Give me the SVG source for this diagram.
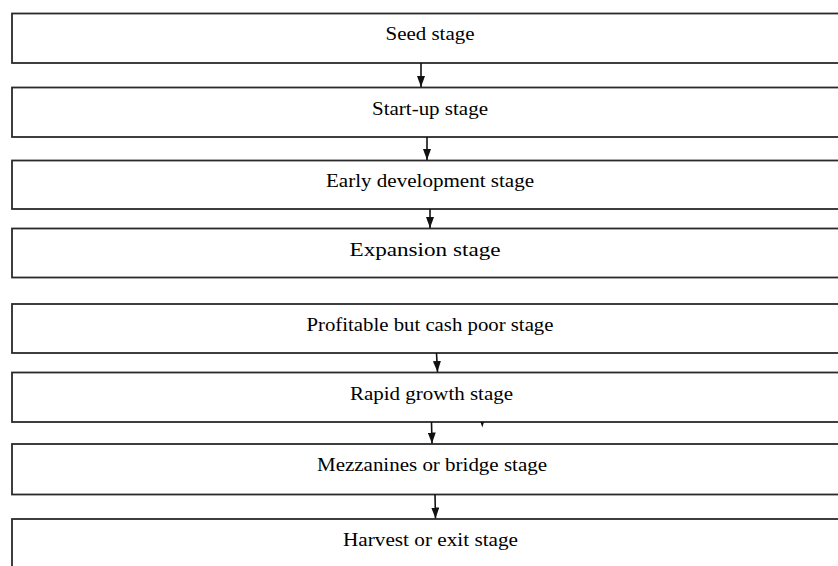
<svg xmlns="http://www.w3.org/2000/svg" width="838" height="566" viewBox="0 0 838 566">
<style>
.box{fill:#fff;stroke:#2a2a2a;stroke-width:1.8}
.lbl{font-family:"Liberation Serif","Times New Roman",serif;font-size:19px;fill:#000;text-anchor:middle}
.con{stroke:#111;stroke-width:1.6;fill:none}
</style>
<defs>
<marker id="ah" markerWidth="11" markerHeight="8" refX="11" refY="4" orient="auto" markerUnits="userSpaceOnUse" viewBox="0 0 11 8">
<path d="M0,0 L11,4 L0,8 Z" fill="#111"/>
</marker>
</defs>
<rect width="838" height="566" fill="#fff"/>
<g id="seed"><rect class="box" x="12" y="13.5" width="840" height="49.5"/><text class="lbl" x="430" y="40" textLength="89" lengthAdjust="spacingAndGlyphs">Seed stage</text></g>
<g id="startup"><rect class="box" x="12" y="87.5" width="840" height="49.5"/><text class="lbl" x="430" y="114.5" textLength="116" lengthAdjust="spacingAndGlyphs">Start-up stage</text></g>
<g id="early"><rect class="box" x="12" y="160.5" width="840" height="48.5"/><text class="lbl" x="430" y="186.5" textLength="208" lengthAdjust="spacingAndGlyphs">Early development stage</text></g>
<g id="expansion"><rect class="box" x="12" y="228.5" width="840" height="49"/><text class="lbl" x="425" y="255.5" textLength="151" lengthAdjust="spacingAndGlyphs">Expansion stage</text></g>
<g id="profitable"><rect class="box" x="12" y="304" width="840" height="49"/><text class="lbl" x="430" y="330.5" textLength="247" lengthAdjust="spacingAndGlyphs">Profitable but cash poor stage</text></g>
<g id="rapid"><rect class="box" x="12" y="372.5" width="840" height="49.5"/><text class="lbl" x="431.5" y="399.5" textLength="163" lengthAdjust="spacingAndGlyphs">Rapid growth stage</text></g>
<g id="mezzanine"><rect class="box" x="12" y="444" width="840" height="50.5"/><text class="lbl" x="432" y="471" textLength="230" lengthAdjust="spacingAndGlyphs">Mezzanines or bridge stage</text></g>
<g id="harvest"><rect class="box" x="12" y="519" width="840" height="60"/><text class="lbl" x="430.5" y="546" textLength="175" lengthAdjust="spacingAndGlyphs">Harvest or exit stage</text></g>
<g id="connectors">
<line class="con" x1="421" y1="63" x2="421" y2="87" marker-end="url(#ah)"/>
<line class="con" x1="427" y1="137" x2="427" y2="160" marker-end="url(#ah)"/>
<line class="con" x1="430" y1="209" x2="430" y2="228" marker-end="url(#ah)"/>
<line class="con" x1="436.5" y1="353" x2="437.5" y2="372" marker-end="url(#ah)"/>
<line class="con" x1="431.5" y1="422" x2="432" y2="443.5" marker-end="url(#ah)"/>
<path d="M480.5,422 L484,422 L482.3,427.5 Z" fill="#111"/>
<line class="con" x1="435" y1="494.5" x2="435.5" y2="518.5" marker-end="url(#ah)"/>
</g>
</svg>
